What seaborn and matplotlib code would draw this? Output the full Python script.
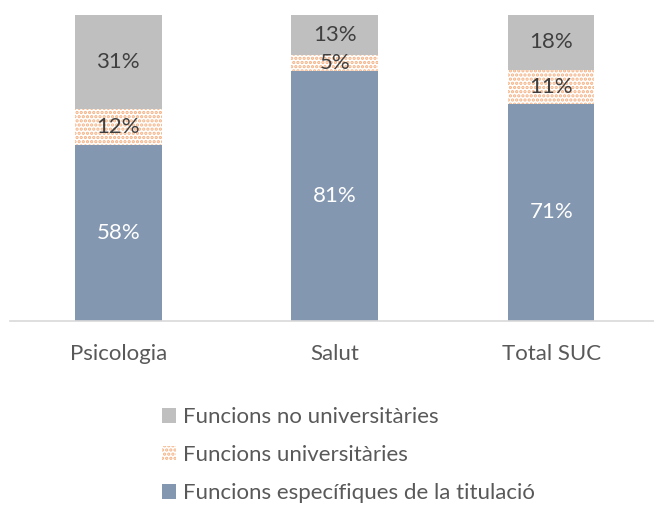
import matplotlib
matplotlib.use("Agg")
import matplotlib.pyplot as plt
import seaborn as sns
import pandas as pd
import numpy as np
from matplotlib.patches import Patch

# Categories and values (percentages as shown in the chart)
categories = ["Psicologia", "Salut", "Total SUC"]
especifiques = [58, 81, 71]
universitaries = [12, 5, 11]
no_universitaries = [31, 13, 18]

series_names = ["Funcions no universitàries", "Funcions universitàries",
                 "Funcions específiques de la titulació"]

col_blue = "#8497B0"
col_grey = "#BFBFBF"
col_dots = "#F4B183"

df = pd.DataFrame({
    "cat": categories,
    "esp": especifiques,
    "uni": universitaries,
    "nouni": no_universitaries,
})
# each bar shown as a share of 100%
tot = df["esp"] + df["uni"] + df["nouni"]
df["esp_s"] = df["esp"] / tot * 100
df["uni_s"] = df["uni"] / tot * 100
df["nouni_s"] = df["nouni"] / tot * 100
df["cum1"] = df["esp_s"]
df["cum2"] = df["esp_s"] + df["uni_s"]
df["cum3"] = df["cum2"] + df["nouni_s"]

sns.set_theme(style="white")
plt.rcParams["font.family"] = ["Lato", "DejaVu Sans"]
plt.rcParams["hatch.linewidth"] = 1.6

fig = plt.figure(figsize=(6.54, 5.05), dpi=100)
ax = fig.add_axes([10 / 654, 0.3653, 1 - 10 / 654, 0.6050])

# overlay bars: full total, then bottom+middle, then bottom
sns.barplot(data=df, x="cat", y="cum3", order=categories, color=col_grey,
            saturation=1, width=0.4, linewidth=0, ax=ax)
sns.barplot(data=df, x="cat", y="cum2", order=categories, color="white",
            saturation=1, width=0.4, linewidth=0, ax=ax)
for p in ax.patches[3:6]:
    p.set_hatch("....")
    p.set_edgecolor(col_dots)
    p.set_linewidth(0)
sns.barplot(data=df, x="cat", y="cum1", order=categories, color=col_blue,
            saturation=1, width=0.4, linewidth=0, ax=ax)

# labels inside segments
fs = 16
for i in range(len(categories)):
    ax.text(i, df["esp_s"][i] / 2, f"{df['esp'][i]}%", ha="center", va="center",
            color="white", fontsize=fs)
    ax.text(i, df["cum1"][i] + df["uni_s"][i] / 2, f"{df['uni'][i]}%", ha="center",
            va="center", color="#404040", fontsize=fs)
    ax.text(i, df["cum2"][i] + df["nouni_s"][i] / 2, f"{df['nouni'][i]}%", ha="center",
            va="center", color="#404040", fontsize=fs)

ax.set_xlim(-0.5, 2.475)
ax.set_ylim(0, 100)
ax.set_xlabel("")
ax.set_ylabel("")
ax.set_yticks([])
ax.tick_params(axis="x", length=0, pad=17, labelsize=fs, labelcolor="#595959")
for s in ["top", "right", "left"]:
    ax.spines[s].set_visible(False)
ax.spines["bottom"].set_color("#D9D9D9")
ax.spines["bottom"].set_linewidth(1.2)

handles = [
    Patch(facecolor=col_grey, edgecolor="none"),
    Patch(facecolor="white", edgecolor=col_dots, hatch="....", linewidth=0),
    Patch(facecolor=col_blue, edgecolor="none"),
]
fig.legend(handles, series_names, loc="upper left",
           bbox_to_anchor=(162 / 654, 1 - 407 / 505), frameon=False,
           fontsize=fs, labelcolor="#595959", handlelength=0.65, handleheight=0.65,
           handletextpad=0.3, labelspacing=0.82, borderpad=0, borderaxespad=0)

plt.savefig("out.png", dpi=100)
